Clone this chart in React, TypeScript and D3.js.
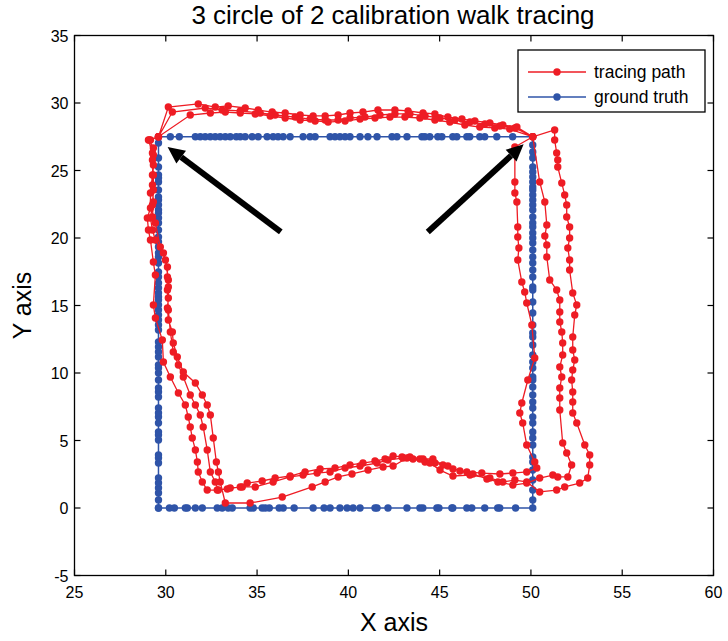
import React from 'react';
import * as d3 from 'd3';

// ---------- data ----------
const xTicks = [25, 30, 35, 40, 45, 50, 55, 60];
const yTicks = [-5, 0, 5, 10, 15, 20, 25, 30, 35];

// ground truth square
const truthLeftX = 29.6;
const truthRightX = 50.1;
const truthTopY = 27.5;
const truthBottomY = 0;
const truthLeftY = [0, 0.59, 1.11, 1.48, 1.85, 2.22, 3.33, 3.7, 3.93, 5.04, 5.41, 5.63, 6.3, 6.74, 7.04, 7.41, 8.22, 8.59, 8.89, 9.48, 10.0, 10.37, 10.59, 11.19, 11.56, 11.93, 12.3, 13.19, 13.56, 13.93, 14.3, 14.67, 15.04, 15.41, 15.63, 15.93, 16.3, 16.67, 17.11, 17.48, 18.15, 18.59, 18.89, 19.33, 19.7, 20.07, 20.59, 21.11, 21.48, 21.85, 22.07, 22.44, 22.81, 23.04, 23.56, 24.15, 24.44, 24.67, 25.26, 25.93, 27.04, 27.5];
const truthTopX = [29.6, 30.25, 30.74, 31.62, 31.89, 32.16, 32.44, 32.71, 32.98, 33.26, 33.53, 33.86, 34.08, 34.35, 34.73, 35.06, 35.55, 35.88, 36.15, 36.43, 36.81, 37.52, 37.9, 38.18, 39.0, 39.27, 39.54, 39.82, 40.09, 40.64, 41.07, 41.57, 42.39, 42.66, 43.21, 44.03, 44.19, 44.46, 44.9, 45.12, 45.72, 45.94, 46.49, 46.65, 47.2, 47.47, 48.13, 49.0, 50.1];
const truthRightY = [27.5, 26.89, 26.37, 25.93, 25.26, 24.89, 24.52, 24.15, 23.78, 23.56, 23.19, 22.81, 22.44, 22.07, 21.56, 21.11, 20.81, 20.37, 20.0, 19.63, 19.11, 18.59, 18.15, 17.63, 17.11, 16.37, 16.15, 15.26, 14.44, 13.56, 12.96, 12.67, 12.07, 11.33, 10.81, 10.37, 9.7, 9.48, 8.96, 8.37, 7.85, 7.41, 6.74, 6.3, 5.63, 5.19, 4.67, 3.78, 3.41, 2.81, 2.07, 1.33, 0.59, 0];
const truthBottomX = [50.1, 49.16, 48.29, 48.18, 47.47, 46.76, 46.49, 45.72, 45.67, 44.96, 44.85, 44.08, 43.92, 43.21, 42.17, 41.57, 41.46, 40.64, 40.26, 39.93, 39.54, 39.0, 38.67, 38.07, 37.03, 36.43, 36.21, 35.67, 35.45, 35.28, 34.79, 34.62, 33.64, 33.42, 33.09, 32.82, 32.0, 31.62, 31.18, 31.07, 30.47, 30.2, 29.6];

// tracing path (three loops, calibration at the two top corners)
const calibTopLeft: [number, number] = [29.6, 27.5];
const calibTopRight: [number, number] = [50.1, 27.5];

const top1: [number, number][] = [[30.14, 29.7], [31.78, 29.93], [32.71, 29.7], [33.42, 29.78], [34.35, 29.63], [35.06, 29.48], [35.83, 29.33], [36.54, 29.26], [37.36, 29.11], [38.07, 29.04], [38.73, 29.04], [39.44, 29.11], [40.09, 29.26], [40.8, 29.33], [41.62, 29.48], [42.55, 29.48], [43.27, 29.41], [44.09, 29.26], [44.74, 29.19], [45.45, 28.96], [46.22, 28.81], [46.93, 28.67], [47.75, 28.52], [48.46, 28.37], [49.23, 28.22]];
const right1: [number, number][] = [[49.12, 26.74], [49.12, 24.15], [49.12, 23.33], [49.23, 22.67], [49.28, 20.81], [49.28, 20.07], [49.34, 19.26], [49.28, 18.37], [49.5, 16.74], [49.66, 16.0], [49.77, 15.19], [50.05, 13.56], [50.21, 11.11], [49.83, 9.48], [49.5, 7.78], [49.39, 7.04], [49.55, 6.3], [49.77, 4.67], [50.21, 3.41]];
const bottom1: [number, number][] = [[50.32, 2.96], [49.77, 2.67], [49.01, 2.59], [48.3, 2.52], [47.31, 2.59], [46.49, 2.67], [45.73, 2.89], [45.18, 3.19], [44.63, 3.63], [43.92, 3.63], [43.37, 3.78], [42.94, 3.78], [42.45, 3.85], [42.01, 3.63], [41.46, 3.48], [40.8, 3.33], [40.09, 3.19], [39.27, 2.96], [38.45, 2.89], [37.63, 2.67], [36.81, 2.37], [35.99, 2.22], [35.28, 2.0], [34.46, 1.85]];
const left1: [number, number][] = [[34.08, 1.56], [33.37, 1.41], [32.82, 1.33], [32.27, 1.33], [32.0, 1.93], [31.78, 2.67], [31.73, 3.41], [31.62, 4.3], [31.45, 5.19], [31.34, 6.0], [31.23, 6.74], [31.07, 7.63], [30.69, 8.52], [30.25, 9.7], [29.87, 10.81], [29.81, 12.44], [29.43, 14.07], [29.32, 15.04], [29.43, 17.26], [29.32, 18.22], [29.16, 19.85], [29.05, 20.59], [28.99, 21.48], [29.16, 22.22], [29.16, 23.33], [29.27, 24.67], [29.32, 26.15], [29.16, 27.26]];

const top2: [number, number][] = [[30.36, 29.33], [32.16, 29.63], [33.09, 29.48], [34.08, 29.41], [35.17, 29.26], [35.99, 29.11], [37.09, 28.96], [37.91, 28.81], [38.73, 28.74], [39.44, 28.74], [40.09, 28.89], [40.91, 28.96], [41.73, 29.11], [42.55, 29.19], [43.37, 29.19], [44.2, 29.04], [45.02, 28.89], [45.84, 28.74], [46.66, 28.59], [47.48, 28.44], [48.3, 28.3], [49.12, 28.15]];
const right2: [number, number][] = [[50.48, 24.15], [50.76, 22.67], [50.87, 20.96], [50.76, 20.15], [50.87, 19.48], [50.87, 18.59], [51.03, 16.89], [51.41, 16.15], [51.58, 15.41], [51.58, 14.52], [51.58, 13.78], [51.69, 13.04], [51.74, 12.22], [51.74, 11.33], [51.58, 10.44], [51.69, 9.7], [51.58, 8.89], [51.58, 8.15], [51.58, 7.26], [51.74, 4.81], [51.96, 4.07], [52.23, 3.19], [52.02, 2.3], [51.47, 2.3]];
const bottom2: [number, number][] = [[51.2, 2.44], [50.48, 2.22], [49.77, 1.85], [49.01, 1.7], [48.19, 1.93], [47.59, 2.15], [46.82, 2.52], [46.11, 2.74], [45.45, 3.11], [44.74, 3.33], [44.2, 3.41], [43.54, 3.63], [42.99, 3.7], [42.17, 3.56], [41.57, 3.33], [40.64, 3.11], [39.82, 2.96], [39.0, 2.67], [38.29, 2.59], [37.52, 2.44], [36.81, 2.3], [35.88, 1.93], [34.9, 1.56]];
const left2: [number, number][] = [[34.19, 1.56], [33.53, 1.48], [32.88, 1.33], [32.71, 1.93], [32.44, 2.67], [32.27, 4.3], [32.05, 6.0], [31.89, 6.89], [31.62, 7.63], [31.34, 8.37], [30.96, 9.7], [30.69, 10.59], [30.41, 11.56], [30.25, 13.04], [30.14, 14.67], [30.09, 16.15], [30.14, 16.89], [29.98, 18.37], [29.7, 19.33], [29.43, 21.11], [29.27, 21.56], [29.32, 22.67], [29.27, 23.93], [29.32, 25.41], [29.27, 26.3], [29.05, 27.26]];

const top3: [number, number][] = [[31.34, 29.11], [32.44, 29.26], [33.26, 29.33], [34.08, 29.26], [34.9, 29.19], [35.72, 29.04], [36.54, 28.89], [37.36, 28.74], [38.18, 28.67], [38.89, 28.59], [39.82, 28.67], [40.64, 28.81], [41.46, 28.89], [42.28, 28.96], [43.1, 28.96], [43.92, 28.89], [44.74, 28.74], [45.56, 28.59], [46.38, 28.37], [47.2, 28.22], [48.02, 28.15], [48.84, 28.07]];
const right3: [number, number][] = [[51.3, 28.0], [51.3, 27.26], [51.41, 26.3], [51.47, 25.78], [51.47, 25.26], [51.69, 24.07], [51.85, 23.19], [51.96, 22.44], [51.96, 21.56], [52.12, 20.81], [52.12, 20.0], [52.02, 19.26], [52.12, 18.37], [52.12, 17.63], [52.29, 15.93], [52.51, 15.04], [52.4, 14.3], [52.29, 12.67], [52.29, 11.7], [52.4, 10.96], [52.29, 10.22], [52.23, 9.48], [52.29, 8.59], [52.29, 7.85], [52.29, 7.04], [52.51, 6.3], [52.95, 4.67], [53.22, 3.93], [53.22, 3.19], [53.11, 2.22], [52.67, 1.85], [51.85, 1.56], [51.41, 1.33]];
const bottom3: [number, number][] = [[50.48, 1.19], [49.77, 1.93], [49.12, 2.07], [48.46, 1.93], [47.75, 2.22], [46.66, 2.44], [45.73, 2.37], [45.02, 2.81], [44.47, 3.33], [44.09, 3.63], [43.21, 3.7], [42.45, 3.11], [41.9, 3.04], [41.08, 2.81], [40.2, 2.52], [39.44, 2.3], [38.73, 1.93], [38.02, 1.56], [36.38, 0.81], [34.62, 0.37]];
const left3: [number, number][] = [[33.26, 0.37], [32.98, 1.93], [32.88, 2.67], [32.77, 3.41], [32.6, 5.19], [32.44, 6.89], [32.27, 7.63], [32.0, 8.37], [31.62, 9.26], [30.96, 10.07], [30.63, 11.19], [30.41, 12.22], [30.36, 13.04], [30.14, 13.93], [30.09, 14.81], [30.14, 15.56], [30.14, 16.37], [30.09, 17.11], [30.09, 17.85], [29.87, 18.89], [29.43, 19.85], [29.27, 20.59], [29.16, 21.48], [29.27, 22.44], [29.32, 23.56], [29.32, 24.67], [29.27, 25.78], [29.32, 26.67], [29.1, 27.26]];

// annotation arrows [tail, head]
const arrowTails: [number, number][] = [[36.3, 20.45], [44.35, 20.45]];
const arrowHeads: [number, number][] = [[30.1, 26.75], [49.6, 26.95]];

const legendLabels = ['tracing path', 'ground truth'];
const title = '3 circle of 2 calibration walk tracing';
const xLabel = 'X axis';
const yLabel = 'Y axis';

// ---------- layout ----------
const W = 728;
const H = 641;
const PL = 74.5, PR = 713.5, PT = 35.5, PB = 575.5;
const RED = '#ee1c24';
const BLUE = '#2f54a8';
const FONT = 'Liberation Sans, Arial, Helvetica, sans-serif';

export default function App() {
  const x = d3.scaleLinear().domain([25, 60]).range([PL, PR]);
  const y = d3.scaleLinear().domain([-5, 35]).range([PB, PT]);

  const truth: [number, number][] = [
    ...truthLeftY.map((v) => [truthLeftX, v] as [number, number]),
    ...truthTopX.slice(1).map((v) => [v, truthTopY] as [number, number]),
    ...truthRightY.slice(1).map((v) => [truthRightX, v] as [number, number]),
    ...truthBottomX.slice(1).map((v) => [v, truthBottomY] as [number, number]),
  ];

  const tracing: [number, number][] = [
    calibTopLeft, ...top1, calibTopRight, ...right1, ...bottom1, ...left1,
    calibTopLeft, ...top2, calibTopRight, ...right2, ...bottom2, ...left2,
    calibTopLeft, ...top3, calibTopRight, ...right3, ...bottom3, ...left3,
    calibTopLeft,
  ];

  const line = d3.line<[number, number]>().x((d) => x(d[0])).y((d) => y(d[1]));
  const tickLen = 6;

  const arrows = arrowTails.map((t, i) => {
    const h = arrowHeads[i];
    const x1 = x(t[0]), y1 = y(t[1]), x2 = x(h[0]), y2 = y(h[1]);
    const ang = Math.atan2(y2 - y1, x2 - x1);
    const headLen = 17, headW = 8;
    const bx = x2 - headLen * Math.cos(ang), by = y2 - headLen * Math.sin(ang);
    const px = -Math.sin(ang), py = Math.cos(ang);
    const tri = `${x2},${y2} ${bx + px * headW},${by + py * headW} ${bx - px * headW},${by - py * headW}`;
    return (
      <g key={i}>
        <line x1={x1} y1={y1} x2={bx} y2={by} stroke="#000" strokeWidth={6} />
        <polygon points={tri} fill="#000" />
      </g>
    );
  });

  const lgX = 518, lgY = 50, lgW = 187, lgH = 62;
  const legendColors = [RED, BLUE];

  return (
    <svg width={W} height={H} style={{ position: 'absolute', left: 0, top: 0, background: '#fff' }} fontFamily={FONT}>
      <rect x={0} y={0} width={W} height={H} fill="#fff" />
      {/* title */}
      <text x={393} y={24} textAnchor="middle" fontSize={26} fill="#000">{title}</text>

      {/* data */}
      <g>
        <path d={line(truth) || ''} fill="none" stroke={BLUE} strokeWidth={1.5} />
        {truth.map((d, i) => (
          <circle key={'b' + i} cx={x(d[0])} cy={y(d[1])} r={3.7} fill={BLUE} />
        ))}
        <path d={line(tracing) || ''} fill="none" stroke={RED} strokeWidth={1.3} />
        {tracing.map((d, i) => (
          <circle key={'r' + i} cx={x(d[0])} cy={y(d[1])} r={3.7} fill={RED} />
        ))}
      </g>

      {arrows}

      {/* frame and ticks */}
      <rect x={PL} y={PT} width={PR - PL} height={PB - PT} fill="none" stroke="#000" strokeWidth={1.3} />
      {xTicks.map((t) => (
        <g key={'xt' + t}>
          <line x1={x(t)} x2={x(t)} y1={PB} y2={PB - tickLen} stroke="#000" strokeWidth={1.2} />
          <line x1={x(t)} x2={x(t)} y1={PT} y2={PT + tickLen} stroke="#000" strokeWidth={1.2} />
          <text x={x(t)} y={PB + 22} textAnchor="middle" fontSize={16}>{t}</text>
        </g>
      ))}
      {yTicks.map((t) => (
        <g key={'yt' + t}>
          <line x1={PL} x2={PL + tickLen} y1={y(t)} y2={y(t)} stroke="#000" strokeWidth={1.2} />
          <line x1={PR} x2={PR - tickLen} y1={y(t)} y2={y(t)} stroke="#000" strokeWidth={1.2} />
          <text x={PL - 6} y={y(t) + 6} textAnchor="end" fontSize={16}>{t}</text>
        </g>
      ))}

      {/* axis labels */}
      <text x={(PL + PR) / 2} y={631} textAnchor="middle" fontSize={25}>{xLabel}</text>
      <text transform={`translate(31, ${(PT + PB) / 2}) rotate(-90)`} textAnchor="middle" fontSize={25}>{yLabel}</text>

      {/* legend */}
      <rect x={lgX} y={lgY} width={lgW} height={lgH} fill="#fff" stroke="#000" strokeWidth={1.3} />
      {legendLabels.map((lab, i) => {
        const ly = lgY + 22 + i * 25;
        return (
          <g key={lab}>
            <line x1={lgX + 10} x2={lgX + 68} y1={ly} y2={ly} stroke={legendColors[i]} strokeWidth={1.4} />
            <circle cx={lgX + 39} cy={ly} r={3.7} fill={legendColors[i]} />
            <text x={lgX + 76} y={ly + 6} fontSize={17.5}>{lab}</text>
          </g>
        );
      })}
    </svg>
  );
}
